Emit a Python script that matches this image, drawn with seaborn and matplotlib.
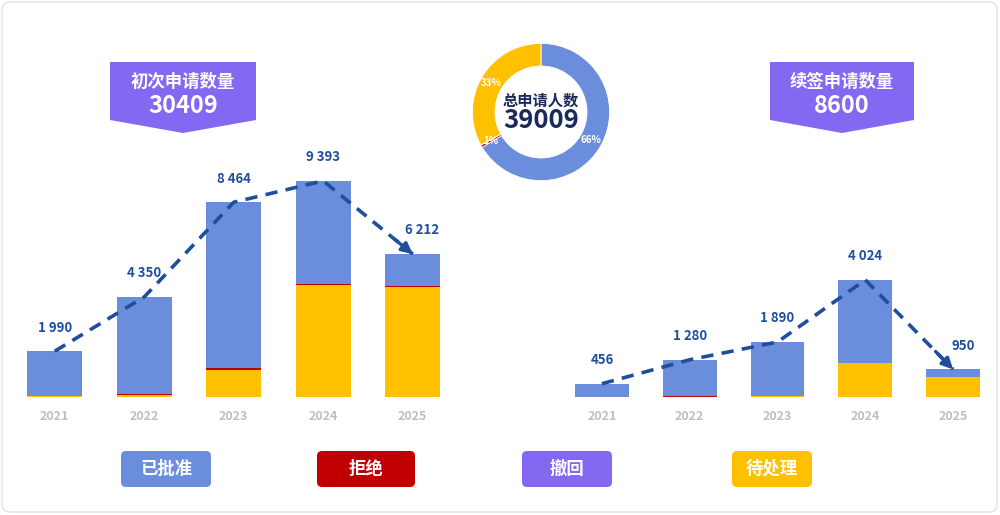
import numpy as np
import matplotlib.pyplot as plt
import seaborn as sns
from matplotlib.patches import Polygon, FancyBboxPatch

# Data
years = ['2021', '2022', '2023', '2024', '2025']

# first-time applications (stack order: pending, rejected, withdrawn, approved)
first_pending = [45, 80, 1180, 4870, 4790]
first_rejected = [10, 30, 90, 45, 30]
first_withdrawn = [0, 0, 4, 8, 2]
first_approved = [1935, 4240, 7190, 4470, 1390]

# renewal applications
renew_pending = [5, 15, 20, 1170, 690]
renew_rejected = [0, 5, 5, 10, 5]
renew_withdrawn = [0, 0, 0, 0, 0]
renew_approved = [451, 1260, 1865, 2844, 255]

status_names = ['已批准', '拒绝', '撤回', '待处理']

# colours
BLUE = '#6A8EDB'
RED = '#C00000'
PURPLE = '#8468F2'
YELLOW = '#FFC000'
NAVY = '#1F4E9E'
GREY = '#BFBFBF'

sns.set_style('white')
plt.rcParams['font.family'] = ['Noto Sans CJK SC', 'DejaVu Sans']

W, H = 1000, 515
fig = plt.figure(figsize=(W / 100, H / 100), dpi=100)


def fig_box(x0, y0, x1, y1):
    # pixel box (top-left origin) -> figure fraction rect
    return [x0 / W, 1 - y1 / H, (x1 - x0) / W, (y1 - y0) / H]


# overlay in pixel coordinates for boxes and titles
bg = fig.add_axes([0, 0, 1, 1])
bg.set_xlim(0, W)
bg.set_ylim(H, 0)
bg.axis('off')
bg.add_patch(FancyBboxPatch((2, 2), W - 5, H - 5, boxstyle='round,pad=0,rounding_size=8',
                            fc='white', ec='#E3E3E3', lw=1))


def draw_bars(ax, layers, ymax):
    stack = np.cumsum(np.array(layers), axis=0)
    colors = [YELLOW, RED, PURPLE, BLUE]
    for i in reversed(range(len(layers))):
        sns.barplot(x=years, y=stack[i], color=colors[i], width=0.615, saturation=1,
                    linewidth=0, ax=ax)
    totals = stack[-1]
    x = np.arange(len(years))
    ax.plot(x, totals, ls=(0, (3.4, 2.3)), lw=2.6, color=NAVY, zorder=5)
    ax.annotate('', xy=(x[-1], totals[-1]),
                xytext=(x[-1] - 0.2, totals[-1] + 0.2 * (totals[-2] - totals[-1])),
                arrowprops=dict(arrowstyle='-|>', color=NAVY, lw=2.4, mutation_scale=16,
                                shrinkA=0, shrinkB=0), zorder=6)
    for i, v in enumerate(totals):
        dx = 7 if i == len(totals) - 1 else 0
        ax.annotate(f'{v:,}'.replace(',', ' '), xy=(i, v), xytext=(dx, 17),
                    textcoords='offset points', ha='center', va='center',
                    fontsize=9.5, fontweight='bold', color=NAVY)
    ax.set_xlim(-0.5, len(years) - 0.5)
    ax.set_ylim(0, ymax)
    ax.set_yticks([])
    ax.set_xlabel('')
    ax.set_ylabel('')
    ax.tick_params(axis='x', length=0, pad=9, labelsize=9, labelcolor=GREY)
    for t in ax.get_xticklabels():
        t.set_fontweight('bold')
    sns.despine(ax=ax, left=True, bottom=True)
    ax.set_facecolor('none')
    return totals


ax1 = fig.add_axes(fig_box(10, 140, 457.5, 397))
tot1 = draw_bars(ax1, [first_pending, first_rejected, first_withdrawn, first_approved], 11170)

ax2 = fig.add_axes(fig_box(558, 140, 997, 397))
tot2 = draw_bars(ax2, [renew_pending, renew_rejected, renew_withdrawn, renew_approved], 8830)

# title banners
for (x0, x1), label, total in [((110, 256), '初次申请数量', tot1.sum()),
                               ((770, 914), '续签申请数量', tot2.sum())]:
    xc = (x0 + x1) / 2
    bg.add_patch(Polygon([(x0, 62), (x1, 62), (x1, 120), (xc, 133), (x0, 120)],
                         closed=True, fc=PURPLE, ec='none'))
    bg.text(xc, 82, label, ha='center', va='center', color='white', fontsize=12.5,
            fontweight='bold')
    bg.text(xc, 106, f'{total}', ha='center', va='center', color='white', fontsize=17,
            fontweight='bold')

# donut
donut_vals = [sum(first_approved) + sum(renew_approved),
              sum(first_rejected) + sum(renew_rejected),
              sum(first_withdrawn) + sum(renew_withdrawn),
              sum(first_pending) + sum(renew_pending)]
ax3 = fig.add_axes(fig_box(471, 42, 611, 182))
ax3.pie(donut_vals, colors=[BLUE, RED, PURPLE, YELLOW], startangle=90, counterclock=False,
        autopct=lambda p: f'{p:.0f}%' if p >= 0.5 else '', pctdistance=0.84,
        wedgeprops=dict(width=0.33, edgecolor='white', linewidth=0.6),
        textprops=dict(color='white', fontsize=7, fontweight='bold'))
ax3.set_xlim(-1.02, 1.02)
ax3.set_ylim(-1.02, 1.02)
ax3.set_aspect('equal')
ax3.text(0, 0.17, '总申请人数', ha='center', va='center', fontsize=11,
         fontweight='bold', color='#1B2A5A')
ax3.text(0, -0.12, f'{sum(donut_vals)}', ha='center', va='center', fontsize=18.5,
         fontweight='bold', color='#1B2A5A')

# legend chips
chips = [(121, 211), (317, 415), (522, 612), (732, 812)]
for (x0, x1), name, col in zip(chips, status_names, [BLUE, RED, PURPLE, YELLOW]):
    bg.add_patch(FancyBboxPatch((x0, 451), x1 - x0, 36,
                                boxstyle='round,pad=0,rounding_size=5', fc=col, ec='none'))
    bg.text((x0 + x1) / 2, 469, name, ha='center', va='center', color='white',
            fontsize=12.5, fontweight='bold')

fig.savefig('out.png', dpi=100)
